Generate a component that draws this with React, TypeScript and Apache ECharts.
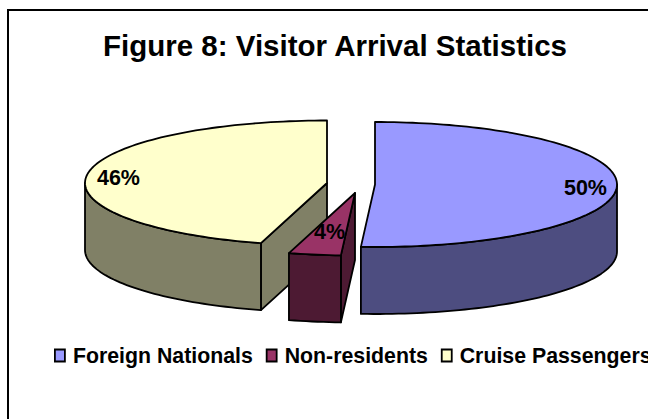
import React, { useEffect, useRef } from "react";
import * as echarts from "echarts";

const categories = ["Foreign Nationals", "Non-residents", "Cruise Passengers"];
const values = [50.4, 4, 45.6];
const topColors = ["#9999FF", "#993366", "#FFFFCC"];
const wallColors = ["#4D4D80", "#4D1A33", "#808066"];

const FONT = '"Liberation Sans", Arial, sans-serif';
const centers = [
  [375, 184.5],
  [355, 193],
  [327, 183],
];
const RX = 242;
const RY = 62.5;
const DEPTH = 67;
const labelFactors = [0.87, 0.63, 0.87];
const labelDy = [2, 0, 2];
const SEAM_SHIFT = 1.9;
const paintOrder = [2, 0, 1];

const total = values.reduce((a, b) => a + b, 0);
const bounds: number[][] = [];
{
  let acc = 0;
  values.forEach((v) => {
    const a = acc;
    acc += (v / total) * 360;
    bounds.push([a, acc]);
  });
  bounds[0][1] += SEAM_SHIFT;
  bounds[1][0] += SEAM_SHIFT;
}

const rad = (d: number) => (d * Math.PI) / 180;

function arc(i: number, a: number, b: number, dy = 0) {
  const [cx, cy] = centers[i];
  const n = Math.max(2, Math.ceil(Math.abs(b - a) / 1.5));
  const pts: number[][] = [];
  for (let k = 0; k <= n; k++) {
    const t = rad(a + ((b - a) * k) / n);
    pts.push([cx + RX * Math.sin(t), cy - RY * Math.cos(t) + dy]);
  }
  return pts;
}

function renderSlice(i: number) {
  const [a, b] = bounds[i];
  const [cx, cy] = centers[i];
  const line = { stroke: "#000", lineWidth: 1.8, lineJoin: "round" as const };
  const children: any[] = [];
  const wallStyle = { fill: wallColors[i], ...line };

  const face = (ang: number) => {
    const p = arc(i, ang, ang)[0];
    children.push({
      type: "polygon",
      shape: {
        points: [p, [cx, cy], [cx, cy + DEPTH], [p[0], p[1] + DEPTH]],
      },
      style: wallStyle,
    });
  };
  if (Math.sin(rad(a)) < -1e-6) face(a);
  if (Math.sin(rad(b)) > 1e-6) face(b);

  const wa = Math.max(a, 90);
  const wb = Math.min(b, 270);
  if (wb > wa) {
    const upper = arc(i, wa, wb);
    const lower = arc(i, wa, wb, DEPTH).reverse();
    children.push({
      type: "polygon",
      shape: { points: [...upper, ...lower] },
      style: wallStyle,
    });
  }

  children.push({
    type: "polygon",
    shape: { points: [[cx, cy], ...arc(i, a, b)] },
    style: { fill: topColors[i], ...line },
  });

  const mid = rad((a + b) / 2);
  const f = labelFactors[i];
  children.push({
    type: "text",
    x: cx + RX * f * Math.sin(mid),
    y: cy - RY * f * Math.cos(mid) + labelDy[i],
    style: {
      text: `${Math.round(values[i])}%`,
      fill: "#000",
      font: `bold 21.5px ${FONT}`,
      align: "center",
      verticalAlign: "middle",
    },
  });
  return { type: "group", children };
}

export default function App() {
  const ref = useRef<HTMLDivElement>(null);
  useEffect(() => {
    document.body.style.margin = "0";
    const chart = echarts.init(ref.current!, undefined, { renderer: "svg" });
    chart.setOption({
      animation: false,
      backgroundColor: "#fff",
      title: {
        text: "Figure 8: Visitor Arrival Statistics",
        left: 103,
        top: 30,
        padding: 0,
        textStyle: { fontFamily: FONT, fontWeight: "bold", fontSize: 29.5, color: "#000" },
      },
      legend: {
        data: categories.map((name, i) => ({
          name,
          icon: "rect",
          itemStyle: { color: topColors[i], borderColor: "#000", borderWidth: 1.8 },
        })),
        left: 54,
        top: 345,
        width: 760,
        padding: 0,
        itemWidth: 10,
        itemHeight: 12,
        itemGap: 13,
        textStyle: {
          fontFamily: FONT,
          fontWeight: "bold",
          fontSize: 21.3,
          color: "#000",
          padding: [0, 0, 0, 3],
        },
      },
      graphic: [
        {
          type: "polyline",
          shape: {
            points: [
              [8, 419],
              [8, 10],
              [648, 10],
            ],
          },
          style: { stroke: "#000", lineWidth: 2, fill: "none" },
        },
      ],
      series: paintOrder.map((i) => ({
        type: "custom",
        name: categories[i],
        coordinateSystem: "none",
        silent: true,
        clip: false,
        itemStyle: { color: topColors[i] },
        data: [values[i]],
        renderItem: () => renderSlice(i),
      })),
    });
    return () => chart.dispose();
  }, []);
  return <div ref={ref} style={{ width: 648, height: 419, overflow: "hidden" }} />;
}
